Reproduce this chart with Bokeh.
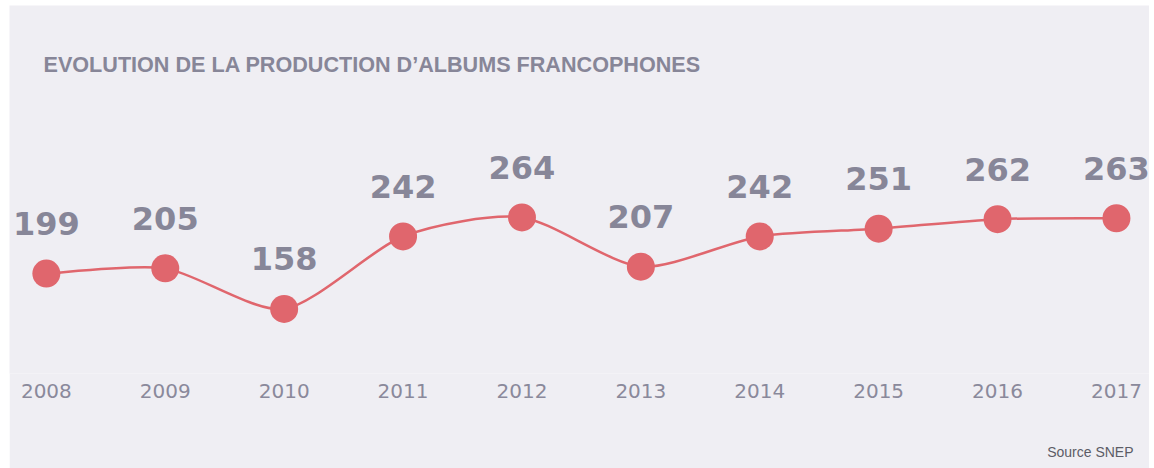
from bokeh.plotting import figure
from bokeh.models import Range1d, FixedTicker, Label, ColumnDataSource, Title, Spacer
from bokeh.layouts import column, row
from bokeh.core.properties import value
from bokeh.embed import file_html
from bokeh.resources import INLINE

# ---- data ----
years = [2008, 2009, 2010, 2011, 2012, 2013, 2014, 2015, 2016, 2017]
albums = [199, 205, 158, 242, 264, 207, 242, 251, 262, 263]
value_labels = [str(v) for v in albums]
title_text = "EVOLUTION DE LA PRODUCTION D\u2019ALBUMS FRANCOPHONES"
source_text = "Source SNEP"

# ---- style ----
BG = "#efeef3"
RED = "#e0666d"
GREY = "#878698"

p = figure(width=1140, height=463, output_backend="svg", toolbar_location=None,
           x_range=Range1d(2007.690, 2017.278), y_range=Range1d(83.3, 509.3),
           min_border_left=0, min_border_right=0, min_border_top=0, min_border_bottom=95,
           y_axis_location=None)
p.background_fill_color = BG
p.border_fill_color = BG
p.outline_line_color = None
p.grid.visible = False

ax = p.xaxis[0]
ax.ticker = FixedTicker(ticks=years)
ax.axis_line_color = None
ax.major_tick_line_color = None
ax.minor_tick_line_color = None
ax.major_tick_in = 0
ax.major_tick_out = 0
ax.major_label_standoff = 10
ax.major_label_text_font = "DejaVu Sans"
ax.major_label_text_font_size = "20px"
ax.major_label_text_color = "#8a899b"
ax.major_label_text_font_style = "normal"
# blank axis label used only as vertical spacing before the source line
ax.axis_label = " "
ax.axis_label_standoff = 22
ax.axis_label_text_font_size = "14px"

# smooth line through the points (Catmull-Rom style bezier segments)
k = 1.0 / 8.0
n = len(years)
x0, y0, x1, y1, cx0, cy0, cx1, cy1 = [], [], [], [], [], [], [], []
for i in range(n - 1):
    xa, ya = years[i], albums[i]
    xb, yb = years[i + 1], albums[i + 1]
    xp, yp = (years[i - 1], albums[i - 1]) if i > 0 else (xa, ya)
    xn, yn = (years[i + 2], albums[i + 2]) if i + 2 < n else (xb, yb)
    x0.append(xa); y0.append(ya); x1.append(xb); y1.append(yb)
    cx0.append(xa + (xb - xp) * k); cy0.append(ya + (yb - yp) * k)
    cx1.append(xb - (xn - xa) * k); cy1.append(yb - (yn - ya) * k)
p.bezier(x0=x0, y0=y0, x1=x1, y1=y1, cx0=cx0, cy0=cy0, cx1=cx1, cy1=cy1,
         line_color=RED, line_width=2.5)

src = ColumnDataSource(dict(x=years, y=albums, t=value_labels))
p.scatter("x", "y", source=src, size=28, fill_color=RED, line_color=None)
p.text("x", "y", text="t", source=src, text_align="center", text_baseline="middle",
       y_offset=-50, text_font=value("DejaVu Sans"), text_font_style="bold",
       text_font_size="32px", text_color=GREY)

p.add_layout(Label(x=34, y=309.5, x_units="screen", y_units="screen", text=title_text,
                   text_font="Liberation Sans", text_font_style="bold", text_font_size="21.6px",
                   text_color=GREY, text_baseline="middle"))

p.add_layout(Title(text=source_text, align="right", offset=16, standoff=0,
                   text_font="Liberation Sans", text_font_size="14px", text_color="#5c5c66",
                   text_font_style="normal"), "below")

layout = column(Spacer(height=5), row(Spacer(width=9), p))
open("out.html", "w").write(file_html(layout, INLINE))
